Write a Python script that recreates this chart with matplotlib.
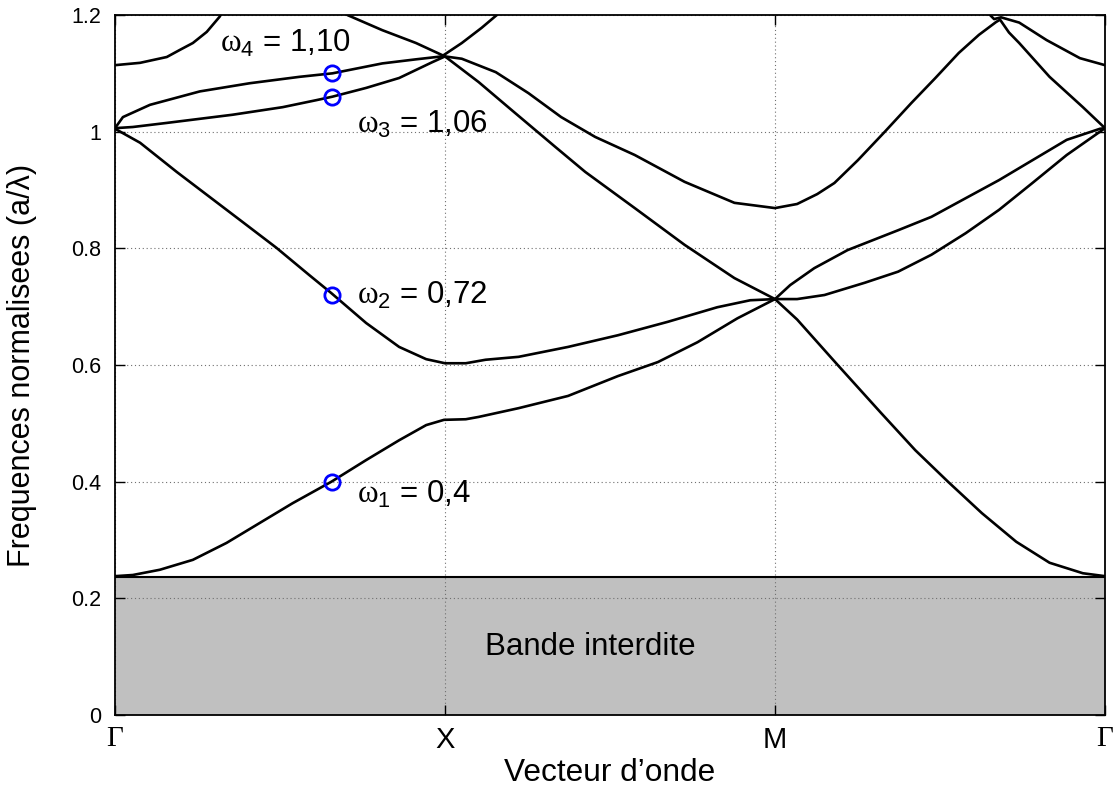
import numpy as np
import matplotlib
matplotlib.use("Agg")
from matplotlib import pyplot as plt

plt.rcParams['font.family'] = ['Liberation Sans', 'DejaVu Sans']
plt.rcParams['mathtext.fontset'] = 'custom'
plt.rcParams['mathtext.rm'] = 'Liberation Sans'
plt.rcParams['mathtext.cal'] = 'Liberation Serif'
plt.rcParams['mathtext.default'] = 'regular'

# k path: Gamma=0, X=1, M=2, Gamma=3
tick_pos = [0, 1, 2, 3]
tick_labels = ['Γ', 'X', 'M', 'Γ']

gap_top = 0.236

# band curves (k, normalised frequency)
k_c1 = [0, 0.054, 0.136, 0.236, 0.338, 0.438, 0.538, 0.656, 0.761, 0.861, 0.943, 0.997,
        1.063, 1.102, 1.223, 1.373, 1.524, 1.645, 1.765, 1.886, 2.0,
        2.046, 2.119, 2.220, 2.373, 2.474, 2.578, 2.679, 2.780, 2.884, 2.985, 3.0]
f_c1 = [0.238, 0.240, 0.249, 0.266, 0.295, 0.329, 0.363, 0.400, 0.437, 0.471, 0.497, 0.506,
        0.507, 0.511, 0.526, 0.547, 0.581, 0.605, 0.639, 0.680, 0.713,
        0.737, 0.766, 0.797, 0.831, 0.854, 0.886, 0.917, 0.951, 0.986, 1.005, 1.006]

k_c2 = [0, 0.076, 0.187, 0.287, 0.387, 0.489, 0.589, 0.656, 0.761, 0.861, 0.943, 1.0,
        1.063, 1.123, 1.223, 1.373, 1.524, 1.675, 1.825, 1.925, 2.0,
        2.067, 2.150, 2.272, 2.373, 2.474, 2.578, 2.679, 2.780, 2.884, 3.0]
f_c2 = [1.005, 0.981, 0.931, 0.888, 0.845, 0.801, 0.754, 0.723, 0.672, 0.631, 0.610, 0.603,
        0.603, 0.609, 0.614, 0.631, 0.651, 0.674, 0.699, 0.711, 0.713,
        0.713, 0.720, 0.741, 0.760, 0.789, 0.826, 0.866, 0.912, 0.960, 1.006]

k_c3 = [0, 0.054, 0.157, 0.356, 0.508, 0.610, 0.659, 0.761, 0.861, 0.961, 1.0,
        1.051, 1.154, 1.253, 1.352, 1.455, 1.575, 1.726, 1.877, 2.0,
        2.067, 2.128, 2.180, 2.251, 2.333, 2.413, 2.486, 2.557, 2.618, 2.670, 2.682,
        2.709, 2.740, 2.832, 2.933, 3.0]
f_c3 = [1.006, 1.008, 1.015, 1.029, 1.042, 1.054, 1.060, 1.075, 1.092, 1.119, 1.129,
        1.125, 1.102, 1.066, 1.025, 0.991, 0.960, 0.914, 0.878, 0.869,
        0.876, 0.893, 0.912, 0.951, 1.000, 1.049, 1.092, 1.135, 1.166, 1.188, 1.192,
        1.170, 1.152, 1.094, 1.042, 1.006]

k_c4 = [0, 0.024, 0.106, 0.257, 0.408, 0.559, 0.659, 0.810, 0.912, 0.990,
        1.051, 1.111, 1.157, 1.175]
f_c4 = [1.006, 1.025, 1.046, 1.069, 1.083, 1.094, 1.100, 1.117, 1.124, 1.129,
        1.152, 1.178, 1.200, 1.215]

k_c5 = [0, 0.076, 0.157, 0.196, 0.236, 0.278, 0.317, 0.335]
f_c5 = [1.114, 1.118, 1.128, 1.140, 1.152, 1.171, 1.197, 1.215]

k_c6 = [0.690, 0.704, 0.810, 0.912, 1.0,
        1.102, 1.202, 1.334, 1.425, 1.575, 1.726, 1.877, 2.0,
        2.067, 2.190, 2.321, 2.425, 2.526, 2.627, 2.731, 2.832, 2.933, 3.0]
f_c6 = [1.210, 1.200, 1.174, 1.152, 1.129,
        1.085, 1.037, 0.974, 0.931, 0.869, 0.806, 0.749, 0.713,
        0.678, 0.600, 0.518, 0.454, 0.399, 0.346, 0.297, 0.261, 0.243, 0.238]

k_c7 = [2.625, 2.664, 2.685, 2.740, 2.823, 2.924, 3.0]
f_c7 = [1.215, 1.193, 1.196, 1.187, 1.157, 1.126, 1.114]

curves = [(k_c1, f_c1), (k_c2, f_c2), (k_c3, f_c3), (k_c4, f_c4),
          (k_c5, f_c5), (k_c6, f_c6), (k_c7, f_c7)]

# marked modes
k_marks = [0.659, 0.659, 0.659, 0.659]
f_marks = [1.10, 1.06, 0.72, 0.40]
mode_labels = [r'$\mathcal{\omega}_4$ = 1,10', r'$\mathcal{\omega}_3$ = 1,06',
               r'$\mathcal{\omega}_2$ = 0,72', r'$\mathcal{\omega}_1$ = 0,4']
label_k = [0.317, 0.734, 0.734, 0.734]
label_f = [1.137, 0.998, 0.705, 0.364]

fig = plt.figure(figsize=(11.17, 7.86), dpi=100)
ax = fig.add_axes([115 / 1117, 71 / 786, 990 / 1117, 700 / 786])

ax.fill_between([0, 3], 0, gap_top, facecolor='#c0c0c0', edgecolor='none', zorder=1)
ax.plot([0, 3], [gap_top, gap_top], color='black', lw=1.5, zorder=1.2)

for k, f in curves:
    ax.plot(k, f, color='black', lw=1.9, zorder=3, solid_capstyle='round',
            solid_joinstyle='round')

ax.plot(k_marks, f_marks, 'o', ms=11, mfc='none', mec='#0000ff', mew=2, zorder=4)

for txt, kx, fy in zip(mode_labels, label_k, label_f):
    ax.text(kx, fy, txt, fontsize=22.5, ha='left', va='baseline', zorder=5)

ax.text(1.440, 0.103, 'Bande interdite', fontsize=22.5, ha='center', va='baseline')

ax.set_xlim(0, 3)
ax.set_ylim(0, 1.2)
ax.set_xticks(tick_pos)
ax.set_xticklabels(tick_labels, fontsize=21)
for lbl in ax.get_xticklabels():
    if lbl.get_text() == 'Γ':
        lbl.set_fontfamily('Liberation Serif')
ax.set_yticks([0, 0.2, 0.4, 0.6, 0.8, 1.0, 1.2])
ax.set_yticklabels(['0', '0.2', '0.4', '0.6', '0.8', '1', '1.2'], fontsize=15.5)

ax.tick_params(direction='in', length=7.2, width=1, top=True, right=True)
ax.tick_params(axis='x', pad=8)
ax.tick_params(axis='y', pad=10)
ax.grid(True, color='#707070', lw=0.8, linestyle=(0, (1, 2.5)))
for s in ax.spines.values():
    s.set_linewidth(1.3)
    s.set_zorder(6)

ax.set_xlabel("Vecteur d’onde", fontsize=22.8)
ax.set_ylabel("Frequences normalisees (a/λ)", fontsize=22)
ax.xaxis.set_label_coords(0.5, -0.061)
ax.yaxis.set_label_coords(-0.079, 0.5)

fig.savefig("out.png", dpi=100)
